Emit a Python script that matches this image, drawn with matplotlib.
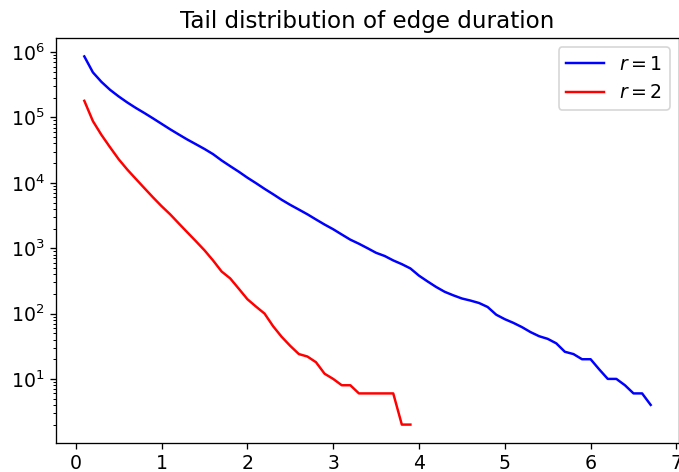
import numpy as np
import matplotlib
matplotlib.use("Agg")
import matplotlib.pyplot as plt

# duration bins (x) and tail counts
x_r1 = [round(0.1 * i, 1) for i in range(1, 68)]
tail_r1 = [
    8.6e5, 4.9e5, 3.5e5, 2.65e5, 2.1e5, 1.7e5, 1.4e5, 1.17e5, 9.7e4, 8.0e4,
    6.6e4, 5.5e4, 4.6e4, 3.9e4, 3.3e4, 2.75e4, 2.2e4, 1.8e4, 1.48e4, 1.2e4,
    9.9e3, 8.1e3, 6.7e3, 5.5e3, 4.6e3, 3.9e3, 3.3e3, 2.75e3, 2.3e3, 1.95e3,
    1.62e3, 1.35e3, 1.17e3, 1.0e3, 850, 760, 650, 570, 490, 380,
    310, 255, 215, 190, 170, 158, 145, 126, 96, 82,
    72, 62, 52, 45, 41, 35, 26, 24, 20, 20,
    14, 10, 10, 8, 6, 6, 4,
]

x_r2 = [round(0.1 * i, 1) for i in range(1, 40)]
tail_r2 = [
    1.8e5, 8.8e4, 5.4e4, 3.5e4, 2.3e4, 1.6e4, 1.15e4, 8.3e3, 6.0e3, 4.4e3,
    3.3e3, 2.4e3, 1.75e3, 1.28e3, 930, 650, 440, 345, 240, 166,
    128, 100, 64, 44, 32, 24, 22, 18, 12, 10,
    8, 8, 6, 6, 6, 6, 6, 2, 2,
]

dpi = 118
fig = plt.figure(figsize=(679 / dpi, 472 / dpi), dpi=dpi)
ax = fig.add_axes([56 / 679, 29 / 472, 623 / 679, 405 / 472])

ax.plot(x_r1, tail_r1, color="blue", label="$r=1$")
ax.plot(x_r2, tail_r2, color="red", label="$r=2$")
ax.set_yscale("log")
ax.set_xticks(range(0, 8))
ax.tick_params(labelsize=11.5)
ax.set_title("Tail distribution of edge duration", fontsize=14)
ax.legend(loc="upper right", fontsize=11.5)

fig.savefig("out.png", dpi=dpi)
